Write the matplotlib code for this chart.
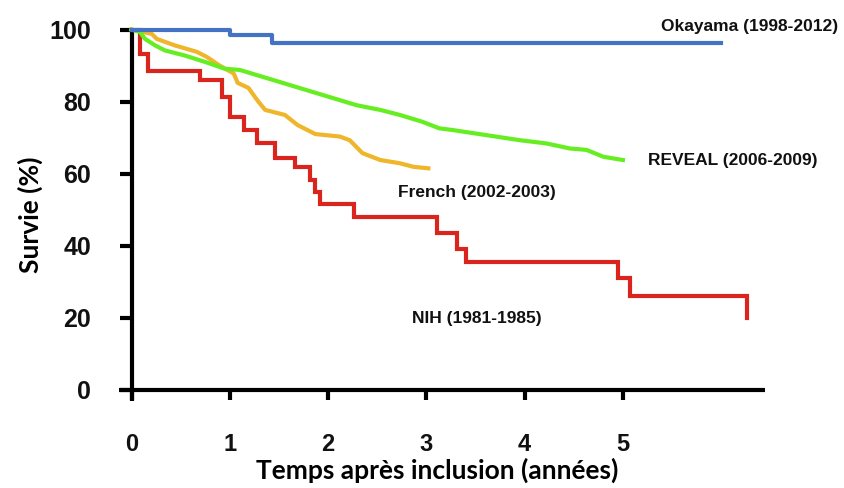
import matplotlib
matplotlib.use("Agg")
import matplotlib.pyplot as plt

# ---------------- data ----------------
okayama_t = [0.0, 1.0, 1.43, 6.0]
okayama_s = [100, 98.5, 96.3, 96.3]

nih_t = [0.0, 0.087, 0.17, 0.70, 0.92, 1.0, 1.14, 1.28, 1.46, 1.66, 1.82, 1.87,
         1.92, 2.26, 3.11, 3.31, 3.40, 4.95, 5.07, 6.26]
nih_s = [100, 93.3, 88.6, 85.9, 81.4, 75.8, 72.1, 68.4, 64.3, 61.9, 58.3, 55.0,
         51.6, 47.9, 43.5, 39.0, 35.6, 31.0, 26.1, 20.0]

french_t = [0.0, 0.206, 0.257, 0.44, 0.665, 0.766, 0.89, 1.04, 1.08, 1.19, 1.29,
            1.36, 1.56, 1.69, 1.87, 2.12, 2.22, 2.35, 2.53, 2.73, 2.87, 3.02]
french_s = [100, 98.8, 97.4, 95.6, 93.8, 92.4, 90.1, 87.8, 85.2, 83.8, 80.0,
            77.7, 76.3, 73.5, 71.0, 70.3, 69.3, 65.7, 63.8, 62.9, 61.9, 61.5]

reveal_t = [0.0, 0.087, 0.137, 0.24, 0.34, 0.54, 0.75, 0.95, 1.10, 1.27, 1.44,
            1.61, 1.78, 1.95, 2.12, 2.29, 2.53, 2.73, 2.96, 3.13, 3.27, 3.61,
            3.95, 4.22, 4.46, 4.63, 4.80, 5.00]
reveal_s = [100, 99.3, 97.4, 95.6, 94.2, 92.8, 91.0, 89.1, 88.8, 87.4, 86.0,
            84.6, 83.2, 81.8, 80.4, 79.0, 77.7, 76.3, 74.4, 72.6, 72.1, 70.7,
            69.3, 68.4, 67.0, 66.6, 64.7, 63.8]

x_ticks = [0, 1, 2, 3, 4, 5]
y_ticks = [0, 20, 40, 60, 80, 100]

series_labels = ["Okayama (1998-2012)", "REVEAL (2006-2009)",
                 "French (2002-2003)", "NIH (1981-1985)"]

# ---------------- figure ----------------
fig = plt.figure(figsize=(8.45, 4.88), dpi=100)
ax = fig.add_axes([0.1405, 0.1787, 0.7654, 0.7682])

lw = 3.0
ax.plot(nih_t, nih_s, drawstyle="steps-post", color="#d9251d", lw=lw,
        solid_joinstyle="miter", clip_on=False, zorder=3)
ax.plot(french_t, french_s, color="#efb52b", lw=lw,
        clip_on=False, zorder=4)
ax.plot(reveal_t, reveal_s, color="#66ee22", lw=lw,
        clip_on=False, zorder=5)
ax.plot(okayama_t, okayama_s, drawstyle="steps-post", color="#4472c4", lw=lw,
        clip_on=False, zorder=6)

ax.set_xlim(-0.13, 6.45)
ax.set_ylim(-3, 101)

for s in ["top", "right"]:
    ax.spines[s].set_visible(False)
ax.spines["left"].set_position(("data", 0))
ax.spines["bottom"].set_position(("data", 0))
ax.spines["left"].set_bounds(-3, 100)
ax.spines["bottom"].set_bounds(-0.13, 6.45)
for s in ["left", "bottom"]:
    ax.spines[s].set_linewidth(3)
    ax.spines[s].set_color("black")
    ax.spines[s].set_capstyle("butt")

ax.set_xticks(x_ticks)
ax.set_yticks(y_ticks)
ax.set_xticklabels([str(v) for v in x_ticks])
ax.set_yticklabels([str(v) for v in y_ticks])
ax.tick_params(axis="y", direction="out", length=9, width=3, pad=20,
               labelsize=18)
ax.tick_params(axis="x", direction="out", length=7, width=3, pad=24,
               labelsize=17)
for lab in ax.get_xticklabels() + ax.get_yticklabels():
    lab.set_fontweight("bold")
    lab.set_fontfamily("Liberation Sans")
    lab.set_color("#111111")

ax.set_xlabel("Temps après inclusion (années)", fontfamily="Lato",
              fontweight="bold", fontsize=19)
ax.set_ylabel("Survie (%)", fontfamily="Lato", fontweight="bold", fontsize=19)
ax.xaxis.label.set_va("center")
ax.yaxis.label.set_va("center")
ax.yaxis.set_label_coords(-0.137, 0.495)
ax.xaxis.set_label_coords(0.492, -0.186)

txt_kw = dict(fontfamily="Liberation Sans", fontweight="bold", fontsize=12.5,
              color="#111111", va="center")
fig.text(0.9917, 1 - 27 / 488, series_labels[0], ha="right", **txt_kw)
fig.text(648 / 845, 1 - 161 / 488, series_labels[1], ha="left", **txt_kw)
fig.text(398 / 845, 1 - 193 / 488, series_labels[2], ha="left", **txt_kw)
fig.text(412 / 845, 1 - 318 / 488, series_labels[3], ha="left", **txt_kw)

fig.savefig("out.png", dpi=100)
